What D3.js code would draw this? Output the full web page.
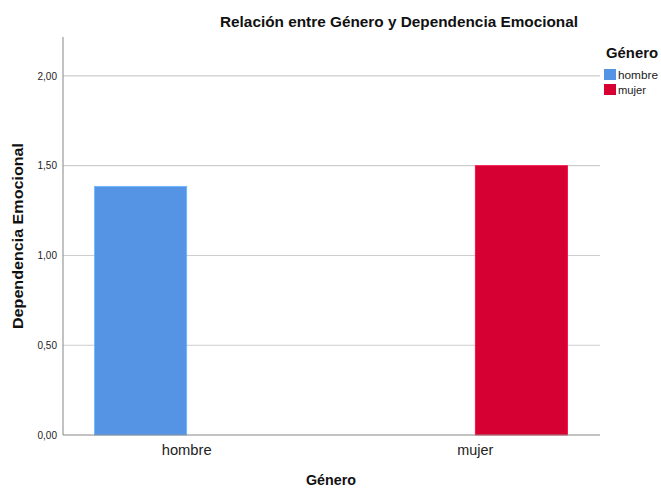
<!DOCTYPE html>
<html><head><meta charset="utf-8">
<script src="https://cdn.jsdelivr.net/npm/d3@7"></script>
<style>body{margin:0;background:#fff}svg{display:block;font-family:"Liberation Sans",Arial,sans-serif}</style>
</head><body>
<svg id="c" width="661" height="488"></svg>
<script>
const categories = ["hombre", "mujer"];
const series = ["hombre", "mujer"];
const values = [1.385, 1.50]; // mean per category, bar of matching series
const colors = ["#5594E4", "#D60032"];
const yTicks = [0, 0.5, 1, 1.5, 2];

const svg = d3.select("#c");
const L = 63, R = 599, B = 435;
const y = d3.scaleLinear().domain([0, 2.217]).range([B, 37]);
const x0 = d3.scaleBand().domain(categories).range([L, R]).paddingInner(0.361).paddingOuter(0.109);
const x1 = d3.scaleBand().domain(series).range([0, x0.bandwidth()]);
const color = d3.scaleOrdinal().domain(series).range(colors);
const fmt = d => d3.format(".2f")(d).replace(".", ",");

// gridlines
svg.append("g").selectAll("line").data(yTicks.filter(d => d > 0)).join("line")
  .attr("x1", L).attr("x2", R + 1).attr("y1", d => y(d)).attr("y2", d => y(d))
  .attr("stroke", "#cdcdcd").attr("stroke-width", 1.2);

// bars
svg.append("g").selectAll("rect").data(categories.map((c, i) => ({c, s: series[i], v: values[i]}))).join("rect")
  .attr("x", d => x0(d.c) + x1(d.s)).attr("width", x1.bandwidth())
  .attr("y", d => y(d.v)).attr("height", d => B - y(d.v))
  .attr("fill", d => color(d.s)).attr("stroke", d => d3.color(color(d.s)).brighter(0.6)).attr("stroke-width", 0.8);

// y axis
const ya = svg.append("g").attr("transform", `translate(${L},0)`)
  .call(d3.axisLeft(y).tickValues(yTicks).tickFormat(fmt).tickSize(0).tickPadding(6));
ya.select(".domain").remove();
ya.append("line").attr("x1", 0).attr("x2", 0).attr("y1", 37).attr("y2", B).attr("stroke", "#999").attr("stroke-width", 1.2);
ya.selectAll("text").attr("font-size", 10).attr("fill", "#222").attr("font-family", "Liberation Sans, Arial, sans-serif");

// x axis
const xa = svg.append("g").attr("transform", `translate(0,${B})`)
  .call(d3.axisBottom(x0).tickSize(0).tickPadding(10));
xa.select(".domain").remove();
xa.append("line").attr("x1", L).attr("x2", R + 1).attr("y1", 0).attr("y2", 0).attr("stroke", "#888").attr("stroke-width", 1.2);
xa.selectAll("text").attr("font-size", 14).attr("fill", "#222").attr("font-family", "Liberation Sans, Arial, sans-serif")
  .attr("textLength", d => d === "hombre" ? 50 : 36).attr("lengthAdjust", "spacingAndGlyphs");

// titles
svg.append("text").attr("x", 399).attr("y", 27).attr("text-anchor", "middle")
  .attr("font-size", 14.5).attr("font-weight", "bold").attr("fill", "#111")
  .attr("textLength", 358).attr("lengthAdjust", "spacingAndGlyphs")
  .text("Relación entre Género y Dependencia Emocional");
svg.append("text").attr("x", 331).attr("y", 485).attr("text-anchor", "middle")
  .attr("font-size", 14.5).attr("font-weight", "bold").attr("fill", "#111")
  .attr("textLength", 50).attr("lengthAdjust", "spacingAndGlyphs").text("Género");
svg.append("text").attr("transform", "translate(23,236) rotate(-90)").attr("text-anchor", "middle")
  .attr("font-size", 15).attr("font-weight", "bold").attr("fill", "#111")
  .attr("textLength", 186).attr("lengthAdjust", "spacingAndGlyphs").text("Dependencia Emocional");

// legend
const lg = svg.append("g");
lg.append("text").attr("x", 606).attr("y", 58).attr("font-size", 14.5).attr("font-weight", "bold").attr("fill", "#111")
  .attr("textLength", 52).attr("lengthAdjust", "spacingAndGlyphs").text("Género");
const it = lg.selectAll("g.it").data(series).join("g").attr("class", "it")
  .attr("transform", (d, i) => `translate(604,${69 + i * 15})`);
it.append("rect").attr("width", 12).attr("height", 11).attr("fill", d => color(d));
it.append("text").attr("x", 14).attr("y", 10).attr("font-size", 11.5).attr("fill", "#222")
  .attr("textLength", d => d === "hombre" ? 40 : 28).attr("lengthAdjust", "spacingAndGlyphs").text(d => d);
</script>
</body></html>
